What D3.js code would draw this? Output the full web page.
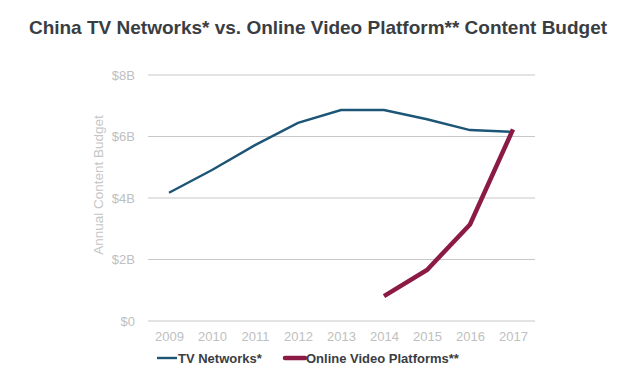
<!DOCTYPE html>
<html>
<head>
<meta charset="utf-8">
<script src="https://cdn.jsdelivr.net/npm/d3@7"></script>
<style>
  body { margin: 0; background: #fff; }
  svg { font-family: "Liberation Sans", Arial, sans-serif; }
</style>
</head>
<body>
<div id="chart"></div>
<script>
// data
var years = [2009, 2010, 2011, 2012, 2013, 2014, 2015, 2016, 2017];
var tvNetworks = [4.17, 4.91, 5.72, 6.44, 6.86, 6.86, 6.56, 6.21, 6.15];
var onlineYears = [2014, 2015, 2016, 2017];
var onlineVideo = [0.81, 1.66, 3.14, 6.23];
var yTicks = [0, 2, 4, 6, 8];

var W = 641, H = 378;
var margin = { top: 75, right: 106, bottom: 57, left: 148 },
  width = W - margin.left - margin.right,
  height = H - margin.top - margin.bottom;

var svg = d3.select("#chart")
  .append("svg")
  .attr("width", W)
  .attr("height", H);

// title
svg.append("text")
  .attr("x", 318)
  .attr("y", 34)
  .attr("text-anchor", "middle")
  .attr("font-size", 19)
  .attr("font-weight", "bold")
  .attr("fill", "#3a3d42")
  .text("China TV Networks* vs. Online Video Platform** Content Budget");

var g = svg.append("g")
  .attr("transform", "translate(" + margin.left + "," + margin.top + ")");

var x = d3.scalePoint()
  .domain(years)
  .range([21, 365]);

var y = d3.scaleLinear()
  .domain([0, 8])
  .range([height, 0]);

// gridlines
g.selectAll(".grid")
  .data(yTicks)
  .enter()
  .append("line")
  .attr("x1", 0)
  .attr("x2", width)
  .attr("y1", function (d) { return y(d); })
  .attr("y2", function (d) { return y(d); })
  .attr("stroke", "#c8c8c8")
  .attr("stroke-width", 1.2);

// Y axis labels
var yAxis = g.append("g")
  .attr("transform", "translate(-10,0)")
  .call(d3.axisLeft(y).tickValues(yTicks).tickSize(0)
    .tickFormat(function (d) { return d === 0 ? "$0" : "$" + d + "B"; }));
yAxis.select(".domain").remove();
yAxis.selectAll("text")
  .attr("font-size", 13)
  .attr("font-family", "Liberation Sans, Arial, sans-serif")
  .attr("fill", "#c0c0c0");

// X axis labels
var xAxis = g.append("g")
  .attr("transform", "translate(0," + height + ")")
  .call(d3.axisBottom(x).tickSize(0).tickPadding(11));
xAxis.select(".domain").remove();
xAxis.selectAll("text")
  .attr("font-size", 13)
  .attr("font-family", "Liberation Sans, Arial, sans-serif")
  .attr("fill", "#c0c0c0");

// y title
svg.append("text")
  .attr("transform", "translate(103,185) rotate(-90)")
  .attr("text-anchor", "middle")
  .attr("font-size", 13.5)
  .attr("fill", "#c6c6c6")
  .text("Annual Content Budget");

var line = d3.line()
  .x(function (d) { return x(d[0]); })
  .y(function (d) { return y(d[1]); });

g.append("path")
  .datum(d3.zip(years, tvNetworks))
  .attr("d", line)
  .attr("fill", "none")
  .attr("stroke", "#1d5577")
  .attr("stroke-width", 2.4);

g.append("path")
  .datum(d3.zip(onlineYears, onlineVideo))
  .attr("d", line)
  .attr("fill", "none")
  .attr("stroke", "#8b1a45")
  .attr("stroke-width", 4.5);

// legend
var legend = svg.append("g").attr("transform", "translate(157,358)");
legend.append("line")
  .attr("x1", 0).attr("x2", 20).attr("y1", 0).attr("y2", 0)
  .attr("stroke", "#1d5577").attr("stroke-width", 2.4);
legend.append("text")
  .attr("x", 21).attr("y", 5)
  .attr("font-size", 13).attr("font-weight", "bold").attr("fill", "#3a3d42")
  .text("TV Networks*");
legend.append("line")
  .attr("x1", 128).attr("x2", 148).attr("y1", 0).attr("y2", 0)
  .attr("stroke", "#8b1a45").attr("stroke-width", 4.5)
  .attr("stroke-linecap", "round");
legend.append("text")
  .attr("x", 149).attr("y", 5)
  .attr("font-size", 13).attr("font-weight", "bold").attr("fill", "#3a3d42")
  .text("Online Video Platforms**");
</script>
</body>
</html>
